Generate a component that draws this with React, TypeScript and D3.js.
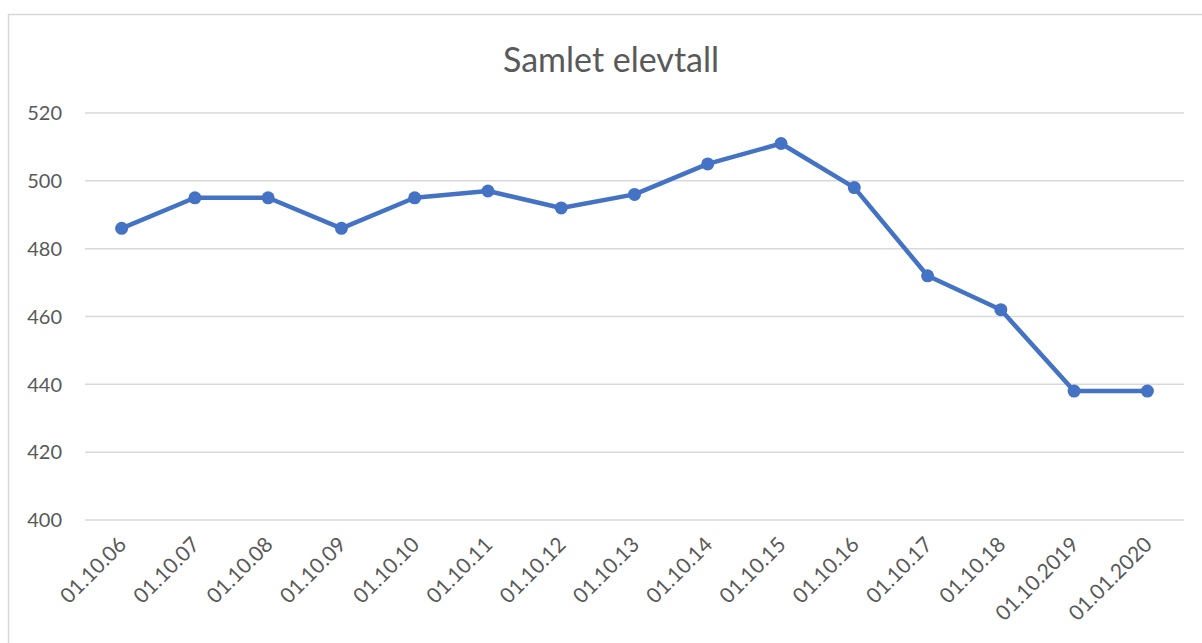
import * as d3 from 'd3';
import { useEffect, useRef } from 'react';

const categories = [
  '01.10.06', '01.10.07', '01.10.08', '01.10.09', '01.10.10', '01.10.11', '01.10.12',
  '01.10.13', '01.10.14', '01.10.15', '01.10.16', '01.10.17', '01.10.18', '01.10.2019', '01.01.2020',
];
const elevtall = [486, 495, 495, 486, 495, 497, 492, 496, 505, 511, 498, 472, 462, 438, 438];
const yTicks = [400, 420, 440, 460, 480, 500, 520];
const title = 'Samlet elevtall';

export default function App() {
  const ref = useRef<HTMLDivElement>(null);

  useEffect(() => {
    const width = 1202;
    const height = 643;
    const margin = { top: 113, right: 18, bottom: 123, left: 85 };
    const font = 'Lato, "Open Sans", sans-serif';
    const textColor = '#595959';
    const lineColor = '#4472C4';

    const root = d3.select(ref.current);
    root.selectAll('*').remove();

    const svg = root
      .append('svg')
      .attr('width', width)
      .attr('height', height)
      .style('position', 'absolute')
      .style('left', 0)
      .style('top', 0)
      .style('background', '#fff');

    // chart border
    svg
      .append('rect')
      .attr('x', 8.5)
      .attr('y', 14.5)
      .attr('width', width)
      .attr('height', height)
      .attr('fill', 'none')
      .attr('stroke', '#d9d9d9')
      .attr('stroke-width', 1.5);

    const x = d3
      .scaleBand()
      .domain(categories)
      .range([margin.left, width - margin.right]);

    const y = d3
      .scaleLinear()
      .domain([400, 520])
      .range([height - margin.bottom, margin.top]);

    // gridlines
    svg
      .append('g')
      .selectAll('line')
      .data(yTicks)
      .join('line')
      .attr('x1', margin.left)
      .attr('x2', width - margin.right)
      .attr('y1', d => y(d))
      .attr('y2', d => y(d))
      .attr('stroke', '#d9d9d9')
      .attr('stroke-width', 1.5);

    // y labels
    svg
      .append('g')
      .selectAll('text')
      .data(yTicks)
      .join('text')
      .attr('x', 62)
      .attr('y', d => y(d))
      .attr('dy', '0.36em')
      .attr('text-anchor', 'end')
      .attr('font-family', font)
      .attr('font-size', 20)
      .attr('fill', textColor)
      .text(d => d);

    // x labels
    const xc = (d: string) => (x(d) as number) + x.bandwidth() / 2;
    svg
      .append('g')
      .selectAll('text')
      .data(categories)
      .join('text')
      .attr('transform', d => `translate(${xc(d) + 6},${height - margin.bottom + 26}) rotate(-45)`)
      .attr('text-anchor', 'end')
      .attr('font-family', font)
      .attr('font-size', 21)
      .attr('fill', textColor)
      .text(d => d);

    // title
    svg
      .append('text')
      .attr('x', 611)
      .attr('y', 72)
      .attr('text-anchor', 'middle')
      .attr('font-family', font)
      .attr('font-size', 34)
      .attr('fill', textColor)
      .text(title);

    const line = d3
      .line<number>()
      .x((_, i) => xc(categories[i]))
      .y(d => y(d));

    svg
      .append('path')
      .datum(elevtall)
      .attr('d', line)
      .attr('fill', 'none')
      .attr('stroke', lineColor)
      .attr('stroke-width', 4.5)
      .attr('stroke-linejoin', 'round');

    svg
      .append('g')
      .selectAll('circle')
      .data(elevtall)
      .join('circle')
      .attr('cx', (_, i) => xc(categories[i]))
      .attr('cy', d => y(d))
      .attr('r', 6.5)
      .attr('fill', lineColor);
  }, []);

  return <div ref={ref}></div>;
}
